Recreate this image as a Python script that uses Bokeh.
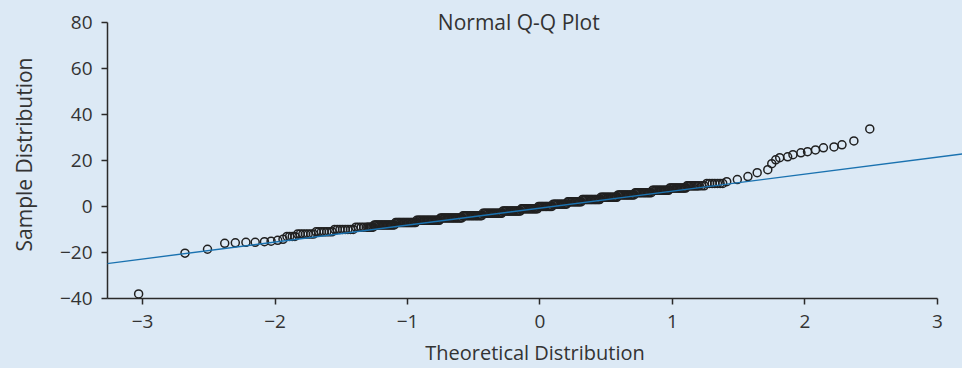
from bokeh.plotting import figure
from bokeh.models import Range1d, FixedTicker, Slope, Label, GlobalInlineStyleSheet
from bokeh.embed import file_html
from bokeh.resources import INLINE

# ---- data ----
tail_low_x = [-3.03, -2.68, -2.51, -2.38, -2.30, -2.22, -2.15, -2.08, -2.03, -1.98, -1.94]
tail_low_y = [-38.0, -20.3, -18.6, -16.0, -15.8, -15.6, -15.6, -15.3, -15.1, -14.7, -14.3]

band_left_x = [-1.91, -1.89, -1.87, -1.85, -1.83, -1.81, -1.79, -1.77, -1.75, -1.73,
               -1.71, -1.69, -1.67, -1.65, -1.63, -1.61, -1.59, -1.57, -1.55, -1.53,
               -1.51, -1.49, -1.47, -1.45, -1.43, -1.41, -1.39, -1.37, -1.35, -1.33, -1.31]
band_left_y = [-13, -13, -13, -13, -12, -12, -12, -12, -12, -12,
               -12, -11, -11, -11, -11, -11, -11, -11, -10, -10,
               -10, -10, -10, -10, -10, -10, -9, -9, -9, -9, -9]

band_mid_x = [-1.30, -1.29, -1.28, -1.27, -1.26, -1.25, -1.24, -1.23, -1.22, -1.21,
              -1.20, -1.19, -1.18, -1.17, -1.16, -1.15, -1.14, -1.13, -1.12, -1.11,
              -1.10, -1.09, -1.08, -1.07, -1.06, -1.05, -1.04, -1.03, -1.02, -1.01,
              -1.00, -0.99, -0.98, -0.97, -0.96, -0.95, -0.94, -0.93, -0.92, -0.91,
              -0.90, -0.89, -0.88, -0.87, -0.86, -0.85, -0.84, -0.83, -0.82, -0.81,
              -0.80, -0.79, -0.78, -0.77, -0.76, -0.75, -0.74, -0.73, -0.72, -0.71,
              -0.70, -0.69, -0.68, -0.67, -0.66, -0.65, -0.64, -0.63, -0.62, -0.61,
              -0.60, -0.59, -0.58, -0.57, -0.56, -0.55, -0.54, -0.53, -0.52, -0.51,
              -0.50, -0.49, -0.48, -0.47, -0.46, -0.45, -0.44, -0.43, -0.42, -0.41,
              -0.40, -0.39, -0.38, -0.37, -0.36, -0.35, -0.34, -0.33, -0.32, -0.31,
              -0.30, -0.29, -0.28, -0.27, -0.26, -0.25, -0.24, -0.23, -0.22, -0.21,
              -0.20, -0.19, -0.18, -0.17, -0.16, -0.15, -0.14, -0.13, -0.12, -0.11,
              -0.10, -0.09, -0.08, -0.07, -0.06, -0.05, -0.04, -0.03, -0.02, -0.01,
              0.00, 0.01, 0.02, 0.03, 0.04, 0.05, 0.06, 0.07, 0.08, 0.09,
              0.10, 0.11, 0.12, 0.13, 0.14, 0.15, 0.16, 0.17, 0.18, 0.19,
              0.20, 0.21, 0.22, 0.23, 0.24, 0.25, 0.26, 0.27, 0.28, 0.29,
              0.30, 0.31, 0.32, 0.33, 0.34, 0.35, 0.36, 0.37, 0.38, 0.39,
              0.40, 0.41, 0.42, 0.43, 0.44, 0.45, 0.46, 0.47, 0.48, 0.49,
              0.50, 0.51, 0.52, 0.53, 0.54, 0.55, 0.56, 0.57, 0.58, 0.59,
              0.60, 0.61, 0.62, 0.63, 0.64, 0.65, 0.66, 0.67, 0.68, 0.69,
              0.70, 0.71, 0.72, 0.73, 0.74, 0.75, 0.76, 0.77, 0.78, 0.79,
              0.80, 0.81, 0.82, 0.83, 0.84, 0.85, 0.86, 0.87, 0.88, 0.89,
              0.90, 0.91, 0.92, 0.93, 0.94, 0.95, 0.96, 0.97, 0.98, 0.99,
              1.00, 1.01, 1.02, 1.03, 1.04, 1.05, 1.06, 1.07, 1.08, 1.09,
              1.10, 1.11, 1.12, 1.13, 1.14, 1.15, 1.16, 1.17, 1.18, 1.19,
              1.20]
band_mid_y = [-9, -9, -9, -9, -9, -8, -8, -8, -8, -8,
              -8, -8, -8, -8, -8, -8, -8, -8, -8, -8,
              -8, -7, -7, -7, -7, -7, -7, -7, -7, -7,
              -7, -7, -7, -7, -7, -7, -7, -6, -6, -6,
              -6, -6, -6, -6, -6, -6, -6, -6, -6, -6,
              -6, -6, -6, -6, -6, -5, -5, -5, -5, -5,
              -5, -5, -5, -5, -5, -5, -5, -5, -5, -5,
              -5, -5, -4, -4, -4, -4, -4, -4, -4, -4,
              -4, -4, -4, -4, -4, -4, -4, -3, -3, -3,
              -3, -3, -3, -3, -3, -3, -3, -3, -3, -3,
              -3, -3, -2, -2, -2, -2, -2, -2, -2, -2,
              -2, -2, -2, -2, -2, -2, -1, -1, -1, -1,
              -1, -1, -1, -1, -1, -1, -1, -1, -1, 0,
              0, 0, 0, 0, 0, 0, 0, 0, 0, 0,
              1, 1, 1, 1, 1, 1, 1, 1, 1, 1,
              1, 2, 2, 2, 2, 2, 2, 2, 2, 2,
              2, 2, 3, 3, 3, 3, 3, 3, 3, 3,
              3, 3, 3, 3, 3, 3, 4, 4, 4, 4,
              4, 4, 4, 4, 4, 4, 4, 4, 4, 5,
              5, 5, 5, 5, 5, 5, 5, 5, 5, 5,
              5, 5, 6, 6, 6, 6, 6, 6, 6, 6,
              6, 6, 6, 6, 6, 7, 7, 7, 7, 7,
              7, 7, 7, 7, 7, 7, 7, 7, 8, 8,
              8, 8, 8, 8, 8, 8, 8, 8, 8, 8,
              8, 9, 9, 9, 9, 9, 9, 9, 9, 9,
              9]

band_right_x = [1.22, 1.24, 1.26, 1.28, 1.30, 1.32, 1.34, 1.36, 1.38]
band_right_y = [9, 9, 10, 10, 10, 10, 10, 10, 10]

tail_high_x = [1.41, 1.49, 1.57, 1.64, 1.72, 1.75, 1.78, 1.81, 1.87, 1.91, 1.97, 2.02,
               2.08, 2.14, 2.22, 2.28, 2.37, 2.49]
tail_high_y = [10.8, 11.7, 13.0, 14.7, 16.0, 18.6, 20.3, 21.2, 21.6, 22.5, 23.3, 23.8,
               24.6, 25.5, 25.9, 26.8, 28.5, 33.7]

sample_x = tail_low_x + band_left_x + band_mid_x + band_right_x + tail_high_x
sample_y = tail_low_y + band_left_y + band_mid_y + band_right_y + tail_high_y

ref_slope = 7.38
ref_intercept = -0.7

x_ticks = [-3, -2, -1, 0, 1, 2, 3]
x_tick_labels = ["\u22123", "\u22122", "\u22121", "0", "1", "2", "3"]
y_ticks = [-40, -20, 0, 20, 40, 60, 80]
y_tick_labels = ["\u221240", "\u221220", "0", "20", "40", "60", "80"]

title_text = "Normal Q-Q Plot"
x_label = "Theoretical Distribution"
y_label = "Sample Distribution"

# ---- styling ----
BG = "#dce9f5"
FONT = "Open Sans"
TXT = "#333333"

p = figure(width=962, height=368, output_backend="svg", toolbar_location=None,
           x_range=Range1d(-3.265, 3.19), y_range=Range1d(-40, 85.18),
           min_border_left=107, min_border_right=0, min_border_top=10, min_border_bottom=68)
p.background_fill_color = BG
p.border_fill_color = BG
p.outline_line_color = None
p.grid.grid_line_color = None
p.stylesheets = [GlobalInlineStyleSheet(css="body { background-color: %s; }" % BG)]

p.scatter(sample_x, sample_y, marker="circle", size=8, fill_color=None,
          line_color="#202020", line_width=1.5)

p.add_layout(Slope(gradient=ref_slope, y_intercept=ref_intercept,
                   line_color="#1a72b0", line_width=1.4))

for ax in (p.xaxis[0], p.yaxis[0]):
    ax.axis_line_color = "#2a2a2a"
    ax.axis_line_width = 1.5
    ax.major_tick_line_color = "#2a2a2a"
    ax.major_tick_line_width = 1.5
    ax.major_tick_out = 6
    ax.major_tick_in = 0
    ax.minor_tick_line_color = None
    ax.major_label_text_font = FONT
    ax.major_label_text_font_size = "19px"
    ax.major_label_text_color = TXT
    ax.axis_label_text_font = FONT
    ax.axis_label_text_font_style = "normal"
    ax.axis_label_text_color = TXT

p.xaxis.ticker = FixedTicker(ticks=x_ticks)
p.xaxis.major_label_overrides = dict(zip(x_ticks, x_tick_labels))
p.xaxis.bounds = (-3.265, 3)
p.xaxis.axis_label = x_label
p.xaxis.axis_label_text_font_size = "20px"
p.xaxis.major_label_standoff = 10
p.xaxis.axis_label_standoff = 8

p.yaxis.ticker = FixedTicker(ticks=y_ticks)
p.yaxis.major_label_overrides = dict(zip(y_ticks, y_tick_labels))
p.yaxis.bounds = (-40, 80)
p.yaxis.axis_label = y_label
p.yaxis.axis_label_text_font_size = "21px"
p.yaxis.major_label_standoff = 9
p.yaxis.axis_label_standoff = 19

p.add_layout(Label(x=-0.16, y=80, text=title_text, text_align="center",
                   text_baseline="middle", text_font=FONT, text_font_size="21px",
                   text_color=TXT))

open("out.html", "w").write(file_html(p, INLINE))
